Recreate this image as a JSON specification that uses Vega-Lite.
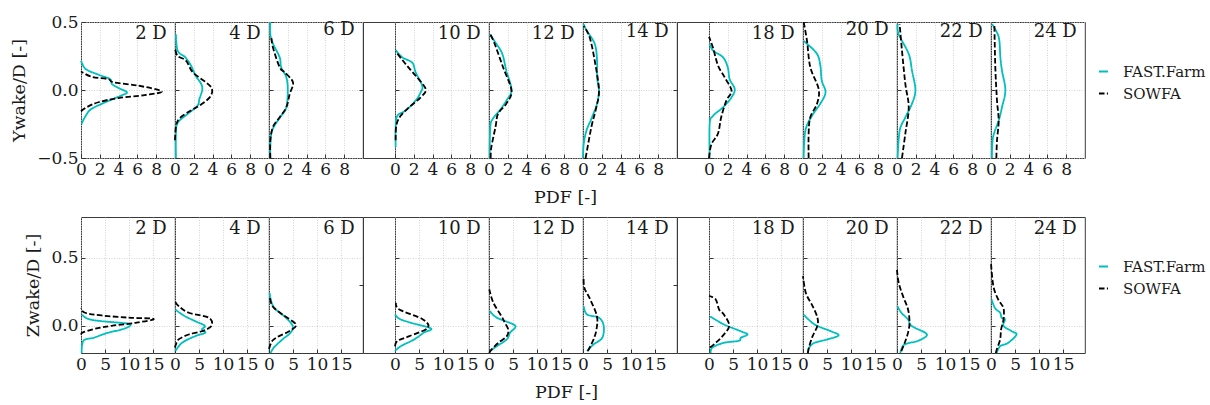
{
"$schema": "https://vega.github.io/schema/vega-lite/v6.json",
"padding": {"left": 10, "top": 12, "right": 0, "bottom": 0},
"datasets": {
"Y": [
{"d":"2 D","m":"FAST.Farm","v":0.216,"p":0},{"d":"2 D","m":"FAST.Farm","v":0.154,"p":0.5},{"d":"2 D","m":"FAST.Farm","v":0.113,"p":1.85},{"d":"2 D","m":"FAST.Farm","v":0.08,"p":3.1},{"d":"2 D","m":"FAST.Farm","v":0.044,"p":3.3},{"d":"2 D","m":"FAST.Farm","v":0.015,"p":4.0},{"d":"2 D","m":"FAST.Farm","v":-0.017,"p":4.9},{"d":"2 D","m":"FAST.Farm","v":-0.04,"p":4.3},{"d":"2 D","m":"FAST.Farm","v":-0.09,"p":2.6},{"d":"2 D","m":"FAST.Farm","v":-0.14,"p":1.1},{"d":"2 D","m":"FAST.Farm","v":-0.19,"p":0.5},{"d":"2 D","m":"FAST.Farm","v":-0.25,"p":0.05},
{"d":"2 D","m":"SOWFA","v":0.137,"p":0},{"d":"2 D","m":"SOWFA","v":0.098,"p":1.1},{"d":"2 D","m":"SOWFA","v":0.08,"p":2.9},{"d":"2 D","m":"SOWFA","v":0.056,"p":3.45},{"d":"2 D","m":"SOWFA","v":0.032,"p":6.1},{"d":"2 D","m":"SOWFA","v":-0.01,"p":8.6},{"d":"2 D","m":"SOWFA","v":-0.037,"p":6.8},{"d":"2 D","m":"SOWFA","v":-0.059,"p":4.0},{"d":"2 D","m":"SOWFA","v":-0.09,"p":1.85},{"d":"2 D","m":"SOWFA","v":-0.127,"p":0.6},{"d":"2 D","m":"SOWFA","v":-0.157,"p":0},
{"d":"4 D","m":"FAST.Farm","v":0.41,"p":0.1},{"d":"4 D","m":"FAST.Farm","v":0.29,"p":0.28},{"d":"4 D","m":"FAST.Farm","v":0.24,"p":1.1},{"d":"4 D","m":"FAST.Farm","v":0.18,"p":1.7},{"d":"4 D","m":"FAST.Farm","v":0.105,"p":2.2},{"d":"4 D","m":"FAST.Farm","v":0.044,"p":2.8},{"d":"4 D","m":"FAST.Farm","v":0,"p":2.9},{"d":"4 D","m":"FAST.Farm","v":-0.066,"p":2.6},{"d":"4 D","m":"FAST.Farm","v":-0.115,"p":2.4},{"d":"4 D","m":"FAST.Farm","v":-0.176,"p":1.35},{"d":"4 D","m":"FAST.Farm","v":-0.24,"p":0.3},{"d":"4 D","m":"FAST.Farm","v":-0.32,"p":0.1},{"d":"4 D","m":"FAST.Farm","v":-0.5,"p":0.1},
{"d":"4 D","m":"SOWFA","v":0.31,"p":0},{"d":"4 D","m":"SOWFA","v":0.25,"p":0.28},{"d":"4 D","m":"SOWFA","v":0.216,"p":1.17},{"d":"4 D","m":"SOWFA","v":0.13,"p":1.9},{"d":"4 D","m":"SOWFA","v":0.056,"p":3.3},{"d":"4 D","m":"SOWFA","v":0.007,"p":3.95},{"d":"4 D","m":"SOWFA","v":-0.054,"p":3.7},{"d":"4 D","m":"SOWFA","v":-0.115,"p":2.6},{"d":"4 D","m":"SOWFA","v":-0.15,"p":1.7},{"d":"4 D","m":"SOWFA","v":-0.21,"p":0.46},{"d":"4 D","m":"SOWFA","v":-0.27,"p":0.1},{"d":"4 D","m":"SOWFA","v":-0.37,"p":0},
{"d":"6 D","m":"FAST.Farm","v":0.5,"p":0.14},{"d":"6 D","m":"FAST.Farm","v":0.41,"p":0.14},{"d":"6 D","m":"FAST.Farm","v":0.34,"p":0.43},{"d":"6 D","m":"FAST.Farm","v":0.24,"p":1.14},{"d":"6 D","m":"FAST.Farm","v":0.167,"p":1.3},{"d":"6 D","m":"FAST.Farm","v":0.093,"p":1.85},{"d":"6 D","m":"FAST.Farm","v":0,"p":2.0},{"d":"6 D","m":"FAST.Farm","v":-0.127,"p":1.85},{"d":"6 D","m":"FAST.Farm","v":-0.19,"p":1.3},{"d":"6 D","m":"FAST.Farm","v":-0.26,"p":0.6},{"d":"6 D","m":"FAST.Farm","v":-0.32,"p":0.25},{"d":"6 D","m":"FAST.Farm","v":-0.42,"p":0.14},{"d":"6 D","m":"FAST.Farm","v":-0.5,"p":0.14},
{"d":"6 D","m":"SOWFA","v":0.39,"p":0.25},{"d":"6 D","m":"SOWFA","v":0.31,"p":0.43},{"d":"6 D","m":"SOWFA","v":0.167,"p":1.14},{"d":"6 D","m":"SOWFA","v":0.13,"p":1.67},{"d":"6 D","m":"SOWFA","v":0.056,"p":2.56},{"d":"6 D","m":"SOWFA","v":-0.03,"p":2.2},{"d":"6 D","m":"SOWFA","v":-0.127,"p":1.85},{"d":"6 D","m":"SOWFA","v":-0.2,"p":1.14},{"d":"6 D","m":"SOWFA","v":-0.27,"p":0.43},{"d":"6 D","m":"SOWFA","v":-0.37,"p":0.14},{"d":"6 D","m":"SOWFA","v":-0.5,"p":0.14},
{"d":"10 D","m":"FAST.Farm","v":0.294,"p":0.07},{"d":"10 D","m":"FAST.Farm","v":0.24,"p":0.78},{"d":"10 D","m":"FAST.Farm","v":0.2,"p":1.85},{"d":"10 D","m":"FAST.Farm","v":0.13,"p":2.2},{"d":"10 D","m":"FAST.Farm","v":0.032,"p":2.9},{"d":"10 D","m":"FAST.Farm","v":-0.017,"p":2.74},{"d":"10 D","m":"FAST.Farm","v":-0.078,"p":2.2},{"d":"10 D","m":"FAST.Farm","v":-0.15,"p":1.14},{"d":"10 D","m":"FAST.Farm","v":-0.19,"p":0.25},{"d":"10 D","m":"FAST.Farm","v":-0.27,"p":0.07},{"d":"10 D","m":"FAST.Farm","v":-0.42,"p":0.07},
{"d":"10 D","m":"SOWFA","v":0.284,"p":0.07},{"d":"10 D","m":"SOWFA","v":0.19,"p":1.14},{"d":"10 D","m":"SOWFA","v":0.105,"p":2.2},{"d":"10 D","m":"SOWFA","v":0.007,"p":3.27},{"d":"10 D","m":"SOWFA","v":-0.054,"p":2.74},{"d":"10 D","m":"SOWFA","v":-0.127,"p":1.5},{"d":"10 D","m":"SOWFA","v":-0.19,"p":0.6},{"d":"10 D","m":"SOWFA","v":-0.26,"p":0.14},{"d":"10 D","m":"SOWFA","v":-0.37,"p":0.07},
{"d":"12 D","m":"FAST.Farm","v":0.41,"p":0.07},{"d":"12 D","m":"FAST.Farm","v":0.34,"p":0.78},{"d":"12 D","m":"FAST.Farm","v":0.265,"p":1.42},{"d":"12 D","m":"FAST.Farm","v":0.142,"p":1.85},{"d":"12 D","m":"FAST.Farm","v":0,"p":2.4},{"d":"12 D","m":"FAST.Farm","v":-0.078,"p":1.85},{"d":"12 D","m":"FAST.Farm","v":-0.15,"p":1.14},{"d":"12 D","m":"FAST.Farm","v":-0.21,"p":0.43},{"d":"12 D","m":"FAST.Farm","v":-0.27,"p":0.14},{"d":"12 D","m":"FAST.Farm","v":-0.5,"p":0.07},
{"d":"12 D","m":"SOWFA","v":0.42,"p":0.07},{"d":"12 D","m":"SOWFA","v":0.34,"p":0.6},{"d":"12 D","m":"SOWFA","v":0.167,"p":1.5},{"d":"12 D","m":"SOWFA","v":-0.005,"p":2.4},{"d":"12 D","m":"SOWFA","v":-0.1,"p":1.85},{"d":"12 D","m":"SOWFA","v":-0.176,"p":0.96},{"d":"12 D","m":"SOWFA","v":-0.27,"p":0.7},{"d":"12 D","m":"SOWFA","v":-0.42,"p":0.25},{"d":"12 D","m":"SOWFA","v":-0.5,"p":0.18},
{"d":"14 D","m":"FAST.Farm","v":0.485,"p":0.07},{"d":"14 D","m":"FAST.Farm","v":0.44,"p":0.36},{"d":"14 D","m":"FAST.Farm","v":0.34,"p":1.25},{"d":"14 D","m":"FAST.Farm","v":0.216,"p":1.5},{"d":"14 D","m":"FAST.Farm","v":0.093,"p":1.5},{"d":"14 D","m":"FAST.Farm","v":0,"p":1.7},{"d":"14 D","m":"FAST.Farm","v":-0.1,"p":1.5},{"d":"14 D","m":"FAST.Farm","v":-0.21,"p":0.9},{"d":"14 D","m":"FAST.Farm","v":-0.3,"p":0.36},{"d":"14 D","m":"FAST.Farm","v":-0.4,"p":0.07},{"d":"14 D","m":"FAST.Farm","v":-0.5,"p":0},
{"d":"14 D","m":"SOWFA","v":0.47,"p":0.07},{"d":"14 D","m":"SOWFA","v":0.39,"p":0.7},{"d":"14 D","m":"SOWFA","v":0.216,"p":1.25},{"d":"14 D","m":"SOWFA","v":0,"p":1.7},{"d":"14 D","m":"SOWFA","v":-0.127,"p":1.42},{"d":"14 D","m":"SOWFA","v":-0.27,"p":0.9},{"d":"14 D","m":"SOWFA","v":-0.47,"p":0.36},{"d":"14 D","m":"SOWFA","v":-0.5,"p":0.28},
{"d":"18 D","m":"FAST.Farm","v":0.34,"p":0.07},{"d":"18 D","m":"FAST.Farm","v":0.29,"p":0.43},{"d":"18 D","m":"FAST.Farm","v":0.24,"p":1.5},{"d":"18 D","m":"FAST.Farm","v":0.167,"p":2.0},{"d":"18 D","m":"FAST.Farm","v":0.08,"p":2.2},{"d":"18 D","m":"FAST.Farm","v":0.007,"p":2.74},{"d":"18 D","m":"FAST.Farm","v":-0.054,"p":2.4},{"d":"18 D","m":"FAST.Farm","v":-0.127,"p":1.5},{"d":"18 D","m":"FAST.Farm","v":-0.19,"p":0.43},{"d":"18 D","m":"FAST.Farm","v":-0.25,"p":0.07},{"d":"18 D","m":"FAST.Farm","v":-0.5,"p":0.07},
{"d":"18 D","m":"SOWFA","v":0.39,"p":0},{"d":"18 D","m":"SOWFA","v":0.31,"p":0.43},{"d":"18 D","m":"SOWFA","v":0.18,"p":0.96},{"d":"18 D","m":"SOWFA","v":0.093,"p":1.67},{"d":"18 D","m":"SOWFA","v":-0.005,"p":2.4},{"d":"18 D","m":"SOWFA","v":-0.078,"p":1.85},{"d":"18 D","m":"SOWFA","v":-0.2,"p":1.3},{"d":"18 D","m":"SOWFA","v":-0.32,"p":0.96},{"d":"18 D","m":"SOWFA","v":-0.4,"p":0.25},{"d":"18 D","m":"SOWFA","v":-0.5,"p":0},
{"d":"20 D","m":"FAST.Farm","v":0.36,"p":0.07},{"d":"20 D","m":"FAST.Farm","v":0.34,"p":0.43},{"d":"20 D","m":"FAST.Farm","v":0.265,"p":1.5},{"d":"20 D","m":"FAST.Farm","v":0.18,"p":1.85},{"d":"20 D","m":"FAST.Farm","v":0.07,"p":2.0},{"d":"20 D","m":"FAST.Farm","v":-0.017,"p":2.4},{"d":"20 D","m":"FAST.Farm","v":-0.1,"p":1.85},{"d":"20 D","m":"FAST.Farm","v":-0.19,"p":0.96},{"d":"20 D","m":"FAST.Farm","v":-0.3,"p":0.25},{"d":"20 D","m":"FAST.Farm","v":-0.5,"p":0.07},
{"d":"20 D","m":"SOWFA","v":0.5,"p":0.07},{"d":"20 D","m":"SOWFA","v":0.36,"p":0.43},{"d":"20 D","m":"SOWFA","v":0.167,"p":0.78},{"d":"20 D","m":"SOWFA","v":0.007,"p":1.67},{"d":"20 D","m":"SOWFA","v":-0.1,"p":1.5},{"d":"20 D","m":"SOWFA","v":-0.2,"p":0.78},{"d":"20 D","m":"SOWFA","v":-0.32,"p":0.6},{"d":"20 D","m":"SOWFA","v":-0.5,"p":0.6},
{"d":"22 D","m":"FAST.Farm","v":0.485,"p":0.07},{"d":"22 D","m":"FAST.Farm","v":0.41,"p":0.18},{"d":"22 D","m":"FAST.Farm","v":0.265,"p":1.25},{"d":"22 D","m":"FAST.Farm","v":0.142,"p":1.6},{"d":"22 D","m":"FAST.Farm","v":0,"p":1.96},{"d":"22 D","m":"FAST.Farm","v":-0.1,"p":1.6},{"d":"22 D","m":"FAST.Farm","v":-0.2,"p":0.9},{"d":"22 D","m":"FAST.Farm","v":-0.3,"p":0.28},{"d":"22 D","m":"FAST.Farm","v":-0.5,"p":0.07},
{"d":"22 D","m":"SOWFA","v":0.485,"p":0.28},{"d":"22 D","m":"SOWFA","v":0.29,"p":0.53},{"d":"22 D","m":"SOWFA","v":0.044,"p":0.89},{"d":"22 D","m":"SOWFA","v":-0.127,"p":1.25},{"d":"22 D","m":"SOWFA","v":-0.32,"p":0.89},{"d":"22 D","m":"SOWFA","v":-0.5,"p":0.53},
{"d":"24 D","m":"FAST.Farm","v":0.485,"p":0.1},{"d":"24 D","m":"FAST.Farm","v":0.39,"p":0.82},{"d":"24 D","m":"FAST.Farm","v":0.24,"p":1.0},{"d":"24 D","m":"FAST.Farm","v":0.142,"p":1.17},{"d":"24 D","m":"FAST.Farm","v":0,"p":1.53},{"d":"24 D","m":"FAST.Farm","v":-0.127,"p":1.17},{"d":"24 D","m":"FAST.Farm","v":-0.225,"p":0.82},{"d":"24 D","m":"FAST.Farm","v":-0.35,"p":0.21},{"d":"24 D","m":"FAST.Farm","v":-0.5,"p":0.1},
{"d":"24 D","m":"SOWFA","v":0.485,"p":0.36},{"d":"24 D","m":"SOWFA","v":0.167,"p":0.46},{"d":"24 D","m":"SOWFA","v":-0.078,"p":0.64},{"d":"24 D","m":"SOWFA","v":-0.225,"p":0.82},{"d":"24 D","m":"SOWFA","v":-0.37,"p":0.64},{"d":"24 D","m":"SOWFA","v":-0.5,"p":0.57}
],
"Z": [
{"d":"2 D","m":"FAST.Farm","v":0.083,"p":0.14},{"d":"2 D","m":"FAST.Farm","v":0.05,"p":1.5},{"d":"2 D","m":"FAST.Farm","v":0.034,"p":4.3},{"d":"2 D","m":"FAST.Farm","v":0.017,"p":9.5},{"d":"2 D","m":"FAST.Farm","v":0,"p":10.2},{"d":"2 D","m":"FAST.Farm","v":-0.027,"p":8.5},{"d":"2 D","m":"FAST.Farm","v":-0.05,"p":5.7},{"d":"2 D","m":"FAST.Farm","v":-0.088,"p":2.6},{"d":"2 D","m":"FAST.Farm","v":-0.11,"p":0.5},{"d":"2 D","m":"FAST.Farm","v":-0.2,"p":0.14},
{"d":"2 D","m":"SOWFA","v":0.13,"p":0},{"d":"2 D","m":"SOWFA","v":0.096,"p":0.83},{"d":"2 D","m":"SOWFA","v":0.076,"p":4.3},{"d":"2 D","m":"SOWFA","v":0.06,"p":9.9},{"d":"2 D","m":"SOWFA","v":0.05,"p":15.1},{"d":"2 D","m":"SOWFA","v":0.022,"p":11.3},{"d":"2 D","m":"SOWFA","v":0,"p":6.4},{"d":"2 D","m":"SOWFA","v":-0.022,"p":2.9},{"d":"2 D","m":"SOWFA","v":-0.047,"p":0.5},{"d":"2 D","m":"SOWFA","v":-0.064,"p":0},
{"d":"4 D","m":"FAST.Farm","v":0.12,"p":0.07},{"d":"4 D","m":"FAST.Farm","v":0.076,"p":1.8},{"d":"4 D","m":"FAST.Farm","v":0.034,"p":4.2},{"d":"4 D","m":"FAST.Farm","v":0,"p":6.2},{"d":"4 D","m":"FAST.Farm","v":-0.027,"p":5.6},{"d":"4 D","m":"FAST.Farm","v":-0.05,"p":6.3},{"d":"4 D","m":"FAST.Farm","v":-0.076,"p":4.2},{"d":"4 D","m":"FAST.Farm","v":-0.125,"p":1.46},{"d":"4 D","m":"FAST.Farm","v":-0.186,"p":0.07},
{"d":"4 D","m":"SOWFA","v":0.18,"p":0},{"d":"4 D","m":"SOWFA","v":0.145,"p":0.76},{"d":"4 D","m":"SOWFA","v":0.096,"p":2.85},{"d":"4 D","m":"SOWFA","v":0.06,"p":7.0},{"d":"4 D","m":"SOWFA","v":0,"p":7.6},{"d":"4 D","m":"SOWFA","v":-0.04,"p":5.6},{"d":"4 D","m":"SOWFA","v":-0.064,"p":2.85},{"d":"4 D","m":"SOWFA","v":-0.1,"p":0.76},{"d":"4 D","m":"SOWFA","v":-0.137,"p":0.2},{"d":"4 D","m":"SOWFA","v":-0.16,"p":0},
{"d":"6 D","m":"FAST.Farm","v":0.24,"p":0.14},{"d":"6 D","m":"FAST.Farm","v":0.17,"p":0.55},{"d":"6 D","m":"FAST.Farm","v":0.12,"p":1.4},{"d":"6 D","m":"FAST.Farm","v":0.06,"p":3.5},{"d":"6 D","m":"FAST.Farm","v":0,"p":4.9},{"d":"6 D","m":"FAST.Farm","v":-0.05,"p":4.5},{"d":"6 D","m":"FAST.Farm","v":-0.1,"p":2.8},{"d":"6 D","m":"FAST.Farm","v":-0.16,"p":1.0},{"d":"6 D","m":"FAST.Farm","v":-0.2,"p":0.35},
{"d":"6 D","m":"SOWFA","v":0.22,"p":0.14},{"d":"6 D","m":"SOWFA","v":0.145,"p":0.7},{"d":"6 D","m":"SOWFA","v":0.083,"p":2.8},{"d":"6 D","m":"SOWFA","v":0.01,"p":5.6},{"d":"6 D","m":"SOWFA","v":-0.04,"p":4.2},{"d":"6 D","m":"SOWFA","v":-0.076,"p":2.1},{"d":"6 D","m":"SOWFA","v":-0.11,"p":0.7},{"d":"6 D","m":"SOWFA","v":-0.17,"p":0},
{"d":"10 D","m":"FAST.Farm","v":0.083,"p":0},{"d":"10 D","m":"FAST.Farm","v":0.05,"p":1.0},{"d":"10 D","m":"FAST.Farm","v":0.02,"p":3.5},{"d":"10 D","m":"FAST.Farm","v":-0.02,"p":7.5},{"d":"10 D","m":"FAST.Farm","v":-0.05,"p":6.0},{"d":"10 D","m":"FAST.Farm","v":-0.1,"p":4.0},{"d":"10 D","m":"FAST.Farm","v":-0.15,"p":1.2},{"d":"10 D","m":"FAST.Farm","v":-0.186,"p":0},
{"d":"10 D","m":"SOWFA","v":0.17,"p":0.2},{"d":"10 D","m":"SOWFA","v":0.12,"p":0.9},{"d":"10 D","m":"SOWFA","v":0.047,"p":5.8},{"d":"10 D","m":"SOWFA","v":-0.015,"p":6.8},{"d":"10 D","m":"SOWFA","v":-0.076,"p":3.0},{"d":"10 D","m":"SOWFA","v":-0.11,"p":0.55},{"d":"10 D","m":"SOWFA","v":-0.15,"p":0},
{"d":"12 D","m":"FAST.Farm","v":0.108,"p":0.2},{"d":"12 D","m":"FAST.Farm","v":0.06,"p":1.6},{"d":"12 D","m":"FAST.Farm","v":0.01,"p":5.1},{"d":"12 D","m":"FAST.Farm","v":-0.015,"p":5.4},{"d":"12 D","m":"FAST.Farm","v":-0.05,"p":4.4},{"d":"12 D","m":"FAST.Farm","v":-0.1,"p":3.7},{"d":"12 D","m":"FAST.Farm","v":-0.15,"p":1.6},{"d":"12 D","m":"FAST.Farm","v":-0.186,"p":0.2},
{"d":"12 D","m":"SOWFA","v":0.267,"p":0.07},{"d":"12 D","m":"SOWFA","v":0.17,"p":0.9},{"d":"12 D","m":"SOWFA","v":0.07,"p":2.6},{"d":"12 D","m":"SOWFA","v":0.022,"p":3.3},{"d":"12 D","m":"SOWFA","v":-0.027,"p":4.0},{"d":"12 D","m":"SOWFA","v":-0.076,"p":3.7},{"d":"12 D","m":"SOWFA","v":-0.125,"p":1.95},{"d":"12 D","m":"SOWFA","v":-0.174,"p":0.55},{"d":"12 D","m":"SOWFA","v":-0.2,"p":0.07},
{"d":"14 D","m":"FAST.Farm","v":0.145,"p":0.14},{"d":"14 D","m":"FAST.Farm","v":0.083,"p":0.83},{"d":"14 D","m":"FAST.Farm","v":0.06,"p":3.3},{"d":"14 D","m":"FAST.Farm","v":0,"p":4.3},{"d":"14 D","m":"FAST.Farm","v":-0.088,"p":4.0},{"d":"14 D","m":"FAST.Farm","v":-0.137,"p":2.2},{"d":"14 D","m":"FAST.Farm","v":-0.186,"p":0.83},
{"d":"14 D","m":"SOWFA","v":0.365,"p":0.14},{"d":"14 D","m":"SOWFA","v":0.28,"p":0.28},{"d":"14 D","m":"SOWFA","v":0.194,"p":1.5},{"d":"14 D","m":"SOWFA","v":0.07,"p":2.9},{"d":"14 D","m":"SOWFA","v":-0.027,"p":2.8},{"d":"14 D","m":"SOWFA","v":-0.1,"p":2.2},{"d":"14 D","m":"SOWFA","v":-0.186,"p":1.0},
{"d":"18 D","m":"FAST.Farm","v":0.07,"p":0.2},{"d":"18 D","m":"FAST.Farm","v":0.01,"p":3.1},{"d":"18 D","m":"FAST.Farm","v":-0.04,"p":6.6},{"d":"18 D","m":"FAST.Farm","v":-0.064,"p":8.0},{"d":"18 D","m":"FAST.Farm","v":-0.088,"p":6.6},{"d":"18 D","m":"FAST.Farm","v":-0.11,"p":6.25},{"d":"18 D","m":"FAST.Farm","v":-0.125,"p":3.1},{"d":"18 D","m":"FAST.Farm","v":-0.16,"p":0.7},{"d":"18 D","m":"FAST.Farm","v":-0.2,"p":0.35},
{"d":"18 D","m":"SOWFA","v":0.22,"p":0},{"d":"18 D","m":"SOWFA","v":0.194,"p":1.4},{"d":"18 D","m":"SOWFA","v":0.12,"p":2.1},{"d":"18 D","m":"SOWFA","v":0.083,"p":3.1},{"d":"18 D","m":"SOWFA","v":0,"p":4.2},{"d":"18 D","m":"SOWFA","v":-0.076,"p":2.8},{"d":"18 D","m":"SOWFA","v":-0.125,"p":1.4},{"d":"18 D","m":"SOWFA","v":-0.16,"p":0.2},
{"d":"20 D","m":"FAST.Farm","v":0.083,"p":0.14},{"d":"20 D","m":"FAST.Farm","v":0.01,"p":2.4},{"d":"20 D","m":"FAST.Farm","v":-0.04,"p":5.8},{"d":"20 D","m":"FAST.Farm","v":-0.07,"p":7.4},{"d":"20 D","m":"FAST.Farm","v":-0.1,"p":5.1},{"d":"20 D","m":"FAST.Farm","v":-0.125,"p":2.4},{"d":"20 D","m":"FAST.Farm","v":-0.16,"p":1.3},{"d":"20 D","m":"FAST.Farm","v":-0.2,"p":1.0},
{"d":"20 D","m":"SOWFA","v":0.365,"p":0},{"d":"20 D","m":"SOWFA","v":0.24,"p":0.6},{"d":"20 D","m":"SOWFA","v":0.145,"p":2.0},{"d":"20 D","m":"SOWFA","v":0.06,"p":3.0},{"d":"20 D","m":"SOWFA","v":0,"p":3.0},{"d":"20 D","m":"SOWFA","v":-0.076,"p":2.0},{"d":"20 D","m":"SOWFA","v":-0.15,"p":1.3},{"d":"20 D","m":"SOWFA","v":-0.2,"p":1.0},
{"d":"22 D","m":"FAST.Farm","v":0.145,"p":0.07},{"d":"22 D","m":"FAST.Farm","v":0.096,"p":0.9},{"d":"22 D","m":"FAST.Farm","v":0.047,"p":2.3},{"d":"22 D","m":"FAST.Farm","v":0,"p":3.0},{"d":"22 D","m":"FAST.Farm","v":-0.05,"p":5.8},{"d":"22 D","m":"FAST.Farm","v":-0.076,"p":6.1},{"d":"22 D","m":"FAST.Farm","v":-0.11,"p":4.4},{"d":"22 D","m":"FAST.Farm","v":-0.137,"p":1.6},{"d":"22 D","m":"FAST.Farm","v":-0.174,"p":0.9},{"d":"22 D","m":"FAST.Farm","v":-0.2,"p":0.7},
{"d":"22 D","m":"SOWFA","v":0.41,"p":0},{"d":"22 D","m":"SOWFA","v":0.316,"p":0.35},{"d":"22 D","m":"SOWFA","v":0.218,"p":1.25},{"d":"22 D","m":"SOWFA","v":0.12,"p":2.3},{"d":"22 D","m":"SOWFA","v":0.022,"p":2.6},{"d":"22 D","m":"SOWFA","v":-0.05,"p":2.3},{"d":"22 D","m":"SOWFA","v":-0.125,"p":1.6},{"d":"22 D","m":"SOWFA","v":-0.186,"p":0.9},
{"d":"24 D","m":"FAST.Farm","v":0.194,"p":0.14},{"d":"24 D","m":"FAST.Farm","v":0.13,"p":0.83},{"d":"24 D","m":"FAST.Farm","v":0.096,"p":1.9},{"d":"24 D","m":"FAST.Farm","v":0.06,"p":2.2},{"d":"24 D","m":"FAST.Farm","v":0.047,"p":2.9},{"d":"24 D","m":"FAST.Farm","v":0,"p":2.6},{"d":"24 D","m":"FAST.Farm","v":-0.04,"p":4.3},{"d":"24 D","m":"FAST.Farm","v":-0.064,"p":5.3},{"d":"24 D","m":"FAST.Farm","v":-0.125,"p":3.6},{"d":"24 D","m":"FAST.Farm","v":-0.15,"p":1.9},{"d":"24 D","m":"FAST.Farm","v":-0.2,"p":1.2},
{"d":"24 D","m":"SOWFA","v":0.46,"p":0},{"d":"24 D","m":"SOWFA","v":0.29,"p":0.5},{"d":"24 D","m":"SOWFA","v":0.194,"p":1.5},{"d":"24 D","m":"SOWFA","v":0.13,"p":2.6},{"d":"24 D","m":"SOWFA","v":0.047,"p":2.6},{"d":"24 D","m":"SOWFA","v":-0.027,"p":2.1},{"d":"24 D","m":"SOWFA","v":-0.1,"p":1.9},{"d":"24 D","m":"SOWFA","v":-0.174,"p":1.2},{"d":"24 D","m":"SOWFA","v":-0.2,"p":1.0}
]
},
"vconcat": [
{
"data": {"name": "Y"},
"spacing": 0,
"bounds": "flush",
"hconcat": [
{"width":93.8,"height":136,"title":{"text":"2 D","offset":-30},"transform":[{"filter":"datum.d==='2 D'"}],"mark":"line","encoding":{"x":{"field":"p","type":"quantitative","scale":{"domain":[0,10],"nice":false,"zero":false},"axis":{"values":[0,2,4,6,8],"title":null}},"y":{"field":"v","type":"quantitative","scale":{"domain":[-0.5,0.5],"nice":false},"axis":{"values":[-0.5,0,0.5],"format":".1f","title":"Ywake/D [-]"}},"order":{"field":"v","type":"quantitative"},"color":{"field":"m","type":"nominal","title":null,"scale":{"domain":["FAST.Farm","SOWFA"],"range":["#00bfbf","#000000"]}},"strokeDash":{"field":"m","type":"nominal","title":null,"scale":{"domain":["FAST.Farm","SOWFA"],"range":[[1,0],[5.5,2.4]]}}}},
{"width":93.8,"height":136,"title":{"text":"4 D"},"transform":[{"filter":"datum.d==='4 D'"}],"mark":"line","encoding":{"x":{"field":"p","type":"quantitative","scale":{"domain":[0,10],"nice":false,"zero":false},"axis":{"values":[0,2,4,6,8],"title":null}},"y":{"field":"v","type":"quantitative","scale":{"domain":[-0.5,0.5],"nice":false},"axis":{"values":[-0.5,0,0.5],"labels":false,"title":null}},"order":{"field":"v","type":"quantitative"},"color":{"field":"m","type":"nominal","title":null},"strokeDash":{"field":"m","type":"nominal","title":null}}},
{"width":93.8,"height":136,"title":{"text":"6 D"},"transform":[{"filter":"datum.d==='6 D'"}],"mark":"line","encoding":{"x":{"field":"p","type":"quantitative","scale":{"domain":[0,10],"nice":false,"zero":false},"axis":{"values":[0,2,4,6,8],"title":null}},"y":{"field":"v","type":"quantitative","scale":{"domain":[-0.5,0.5],"nice":false},"axis":{"values":[-0.5,0,0.5],"labels":false,"title":null}},"order":{"field":"v","type":"quantitative"},"color":{"field":"m","type":"nominal","title":null},"strokeDash":{"field":"m","type":"nominal","title":null}}},
{"width":32,"height":136,"transform":[{"filter":"false"}],"mark":{"type":"point","opacity":0},"encoding":{"y":{"field":"v","type":"quantitative","scale":{"domain":[-0.5,0.5],"nice":false},"axis":{"values":[0],"labels":false,"title":null,"grid":false,"tickSize":4}}}},
{"width":93.8,"height":136,"title":{"text":"10 D"},"transform":[{"filter":"datum.d==='10 D'"}],"mark":"line","encoding":{"x":{"field":"p","type":"quantitative","scale":{"domain":[0,10],"nice":false,"zero":false},"axis":{"values":[0,2,4,6,8],"title":null}},"y":{"field":"v","type":"quantitative","scale":{"domain":[-0.5,0.5],"nice":false},"axis":{"values":[-0.5,0,0.5],"labels":false,"title":null}},"order":{"field":"v","type":"quantitative"},"color":{"field":"m","type":"nominal","title":null},"strokeDash":{"field":"m","type":"nominal","title":null}}},
{"width":93.8,"height":136,"title":{"text":"12 D"},"transform":[{"filter":"datum.d==='12 D'"}],"mark":"line","encoding":{"x":{"field":"p","type":"quantitative","scale":{"domain":[0,10],"nice":false,"zero":false},"axis":{"values":[0,2,4,6,8],"title":"PDF [-]","titleX":76,"titleY":30}},"y":{"field":"v","type":"quantitative","scale":{"domain":[-0.5,0.5],"nice":false},"axis":{"values":[-0.5,0,0.5],"labels":false,"title":null}},"order":{"field":"v","type":"quantitative"},"color":{"field":"m","type":"nominal","title":null},"strokeDash":{"field":"m","type":"nominal","title":null}}},
{"width":93.8,"height":136,"title":{"text":"14 D"},"transform":[{"filter":"datum.d==='14 D'"}],"mark":"line","encoding":{"x":{"field":"p","type":"quantitative","scale":{"domain":[0,10],"nice":false,"zero":false},"axis":{"values":[0,2,4,6,8],"title":null}},"y":{"field":"v","type":"quantitative","scale":{"domain":[-0.5,0.5],"nice":false},"axis":{"values":[-0.5,0,0.5],"labels":false,"title":null}},"order":{"field":"v","type":"quantitative"},"color":{"field":"m","type":"nominal","title":null},"strokeDash":{"field":"m","type":"nominal","title":null}}},
{"width":32,"height":136,"transform":[{"filter":"false"}],"mark":{"type":"point","opacity":0},"encoding":{"y":{"field":"v","type":"quantitative","scale":{"domain":[-0.5,0.5],"nice":false},"axis":{"values":[0],"labels":false,"title":null,"grid":false,"tickSize":4}}}},
{"width":93.8,"height":136,"title":{"text":"18 D"},"transform":[{"filter":"datum.d==='18 D'"}],"mark":"line","encoding":{"x":{"field":"p","type":"quantitative","scale":{"domain":[0,10],"nice":false,"zero":false},"axis":{"values":[0,2,4,6,8],"title":null}},"y":{"field":"v","type":"quantitative","scale":{"domain":[-0.5,0.5],"nice":false},"axis":{"values":[-0.5,0,0.5],"labels":false,"title":null}},"order":{"field":"v","type":"quantitative"},"color":{"field":"m","type":"nominal","title":null},"strokeDash":{"field":"m","type":"nominal","title":null}}},
{"width":93.8,"height":136,"title":{"text":"20 D"},"transform":[{"filter":"datum.d==='20 D'"}],"mark":"line","encoding":{"x":{"field":"p","type":"quantitative","scale":{"domain":[0,10],"nice":false,"zero":false},"axis":{"values":[0,2,4,6,8],"title":null}},"y":{"field":"v","type":"quantitative","scale":{"domain":[-0.5,0.5],"nice":false},"axis":{"values":[-0.5,0,0.5],"labels":false,"title":null}},"order":{"field":"v","type":"quantitative"},"color":{"field":"m","type":"nominal","title":null},"strokeDash":{"field":"m","type":"nominal","title":null}}},
{"width":93.8,"height":136,"title":{"text":"22 D"},"transform":[{"filter":"datum.d==='22 D'"}],"mark":"line","encoding":{"x":{"field":"p","type":"quantitative","scale":{"domain":[0,10],"nice":false,"zero":false},"axis":{"values":[0,2,4,6,8],"title":null}},"y":{"field":"v","type":"quantitative","scale":{"domain":[-0.5,0.5],"nice":false},"axis":{"values":[-0.5,0,0.5],"labels":false,"title":null}},"order":{"field":"v","type":"quantitative"},"color":{"field":"m","type":"nominal","title":null},"strokeDash":{"field":"m","type":"nominal","title":null}}},
{"width":93.8,"height":136,"title":{"text":"24 D"},"transform":[{"filter":"datum.d==='24 D'"}],"mark":"line","encoding":{"x":{"field":"p","type":"quantitative","scale":{"domain":[0,10],"nice":false,"zero":false},"axis":{"values":[0,2,4,6,8],"title":null}},"y":{"field":"v","type":"quantitative","scale":{"domain":[-0.5,0.5],"nice":false},"axis":{"values":[-0.5,0,0.5],"labels":false,"title":null}},"order":{"field":"v","type":"quantitative"},"color":{"field":"m","type":"nominal","title":null},"strokeDash":{"field":"m","type":"nominal","title":null}}}
]
},
{
"data": {"name": "Z"},
"spacing": 0,
"bounds": "flush",
"hconcat": [
{"width":93.8,"height":136,"title":{"text":"2 D"},"transform":[{"filter":"datum.d==='2 D'"}],"mark":"line","encoding":{"x":{"field":"p","type":"quantitative","scale":{"domain":[0,19.5],"nice":false,"zero":false},"axis":{"values":[0,5,10,15],"title":null}},"y":{"field":"v","type":"quantitative","scale":{"domain":[-0.2,0.8],"nice":false},"axis":{"values":[0,0.5],"format":".1f","title":"Zwake/D [-]"}},"order":{"field":"v","type":"quantitative"},"color":{"field":"m","type":"nominal","title":null},"strokeDash":{"field":"m","type":"nominal","title":null}}},
{"width":93.8,"height":136,"title":{"text":"4 D"},"transform":[{"filter":"datum.d==='4 D'"}],"mark":"line","encoding":{"x":{"field":"p","type":"quantitative","scale":{"domain":[0,19.5],"nice":false,"zero":false},"axis":{"values":[0,5,10,15],"title":null}},"y":{"field":"v","type":"quantitative","scale":{"domain":[-0.2,0.8],"nice":false},"axis":{"values":[0,0.5],"labels":false,"title":null}},"order":{"field":"v","type":"quantitative"},"color":{"field":"m","type":"nominal","title":null},"strokeDash":{"field":"m","type":"nominal","title":null}}},
{"width":93.8,"height":136,"title":{"text":"6 D"},"transform":[{"filter":"datum.d==='6 D'"}],"mark":"line","encoding":{"x":{"field":"p","type":"quantitative","scale":{"domain":[0,19.5],"nice":false,"zero":false},"axis":{"values":[0,5,10,15],"title":null}},"y":{"field":"v","type":"quantitative","scale":{"domain":[-0.2,0.8],"nice":false},"axis":{"values":[0,0.5],"labels":false,"title":null}},"order":{"field":"v","type":"quantitative"},"color":{"field":"m","type":"nominal","title":null},"strokeDash":{"field":"m","type":"nominal","title":null}}},
{"width":32,"height":136,"transform":[{"filter":"false"}],"mark":{"type":"point","opacity":0},"encoding":{"y":{"field":"v","type":"quantitative","scale":{"domain":[-0.2,0.8],"nice":false},"axis":{"values":[0.3],"labels":false,"title":null,"grid":false,"tickSize":4}}}},
{"width":93.8,"height":136,"title":{"text":"10 D"},"transform":[{"filter":"datum.d==='10 D'"}],"mark":"line","encoding":{"x":{"field":"p","type":"quantitative","scale":{"domain":[0,19.5],"nice":false,"zero":false},"axis":{"values":[0,5,10,15],"title":null}},"y":{"field":"v","type":"quantitative","scale":{"domain":[-0.2,0.8],"nice":false},"axis":{"values":[0,0.5],"labels":false,"title":null}},"order":{"field":"v","type":"quantitative"},"color":{"field":"m","type":"nominal","title":null},"strokeDash":{"field":"m","type":"nominal","title":null}}},
{"width":93.8,"height":136,"title":{"text":"12 D"},"transform":[{"filter":"datum.d==='12 D'"}],"mark":"line","encoding":{"x":{"field":"p","type":"quantitative","scale":{"domain":[0,19.5],"nice":false,"zero":false},"axis":{"values":[0,5,10,15],"title":"PDF [-]","titleX":77,"titleY":30}},"y":{"field":"v","type":"quantitative","scale":{"domain":[-0.2,0.8],"nice":false},"axis":{"values":[0,0.5],"labels":false,"title":null}},"order":{"field":"v","type":"quantitative"},"color":{"field":"m","type":"nominal","title":null},"strokeDash":{"field":"m","type":"nominal","title":null}}},
{"width":93.8,"height":136,"title":{"text":"14 D"},"transform":[{"filter":"datum.d==='14 D'"}],"mark":"line","encoding":{"x":{"field":"p","type":"quantitative","scale":{"domain":[0,19.5],"nice":false,"zero":false},"axis":{"values":[0,5,10,15],"title":null}},"y":{"field":"v","type":"quantitative","scale":{"domain":[-0.2,0.8],"nice":false},"axis":{"values":[0,0.5],"labels":false,"title":null}},"order":{"field":"v","type":"quantitative"},"color":{"field":"m","type":"nominal","title":null},"strokeDash":{"field":"m","type":"nominal","title":null}}},
{"width":32,"height":136,"transform":[{"filter":"false"}],"mark":{"type":"point","opacity":0},"encoding":{"y":{"field":"v","type":"quantitative","scale":{"domain":[-0.2,0.8],"nice":false},"axis":{"values":[0.3],"labels":false,"title":null,"grid":false,"tickSize":4}}}},
{"width":93.8,"height":136,"title":{"text":"18 D"},"transform":[{"filter":"datum.d==='18 D'"}],"mark":"line","encoding":{"x":{"field":"p","type":"quantitative","scale":{"domain":[0,19.5],"nice":false,"zero":false},"axis":{"values":[0,5,10,15],"title":null}},"y":{"field":"v","type":"quantitative","scale":{"domain":[-0.2,0.8],"nice":false},"axis":{"values":[0,0.5],"labels":false,"title":null}},"order":{"field":"v","type":"quantitative"},"color":{"field":"m","type":"nominal","title":null},"strokeDash":{"field":"m","type":"nominal","title":null}}},
{"width":93.8,"height":136,"title":{"text":"20 D"},"transform":[{"filter":"datum.d==='20 D'"}],"mark":"line","encoding":{"x":{"field":"p","type":"quantitative","scale":{"domain":[0,19.5],"nice":false,"zero":false},"axis":{"values":[0,5,10,15],"title":null}},"y":{"field":"v","type":"quantitative","scale":{"domain":[-0.2,0.8],"nice":false},"axis":{"values":[0,0.5],"labels":false,"title":null}},"order":{"field":"v","type":"quantitative"},"color":{"field":"m","type":"nominal","title":null},"strokeDash":{"field":"m","type":"nominal","title":null}}},
{"width":93.8,"height":136,"title":{"text":"22 D"},"transform":[{"filter":"datum.d==='22 D'"}],"mark":"line","encoding":{"x":{"field":"p","type":"quantitative","scale":{"domain":[0,19.5],"nice":false,"zero":false},"axis":{"values":[0,5,10,15],"title":null}},"y":{"field":"v","type":"quantitative","scale":{"domain":[-0.2,0.8],"nice":false},"axis":{"values":[0,0.5],"labels":false,"title":null}},"order":{"field":"v","type":"quantitative"},"color":{"field":"m","type":"nominal","title":null},"strokeDash":{"field":"m","type":"nominal","title":null}}},
{"width":93.8,"height":136,"title":{"text":"24 D"},"transform":[{"filter":"datum.d==='24 D'"}],"mark":"line","encoding":{"x":{"field":"p","type":"quantitative","scale":{"domain":[0,19.5],"nice":false,"zero":false},"axis":{"values":[0,5,10,15],"title":null}},"y":{"field":"v","type":"quantitative","scale":{"domain":[-0.2,0.8],"nice":false},"axis":{"values":[0,0.5],"labels":false,"title":null}},"order":{"field":"v","type":"quantitative"},"color":{"field":"m","type":"nominal","title":null},"strokeDash":{"field":"m","type":"nominal","title":null}}}
]
}
],
"spacing": 10,
"resolve": {"legend": {"color": "independent", "strokeDash": "independent"}},
"config": {
"view": {"stroke": "#3a3a3a", "strokeWidth": 1},
"axis": {"labelFont": "DejaVu Serif", "labelFontSize": 17, "labelColor": "#1a1a1a", "titleFont": "DejaVu Serif", "titleFontSize": 17.5, "titleFontWeight": "normal", "titleColor": "#1a1a1a", "domain": false, "ticks": true, "tickColor": "#333333", "tickSize": -4, "tickWidth": 1, "grid": true, "gridColor": "#c8c8c8", "gridDash": [1, 1.5], "gridWidth": 0.8, "labelFlush": false, "labelOverlap": false, "labelPadding": 7},
"axisY": {"titlePadding": 8},
"title": {"anchor": "end", "frame": "group", "font": "DejaVu Serif", "fontSize": 18, "fontWeight": "normal", "color": "#1a1a1a", "offset": -21, "dx": -8},
"legend": {"orient": "none", "legendX": 1015, "legendY": 42, "labelFont": "DejaVu Serif", "labelFontSize": 15, "labelColor": "#1a1a1a", "symbolType": "stroke", "symbolSize": 81, "symbolStrokeWidth": 2, "rowPadding": 6, "labelOffset": 12},
"line": {"strokeWidth": 1.8, "interpolate": "cardinal", "clip": true}
}
}
